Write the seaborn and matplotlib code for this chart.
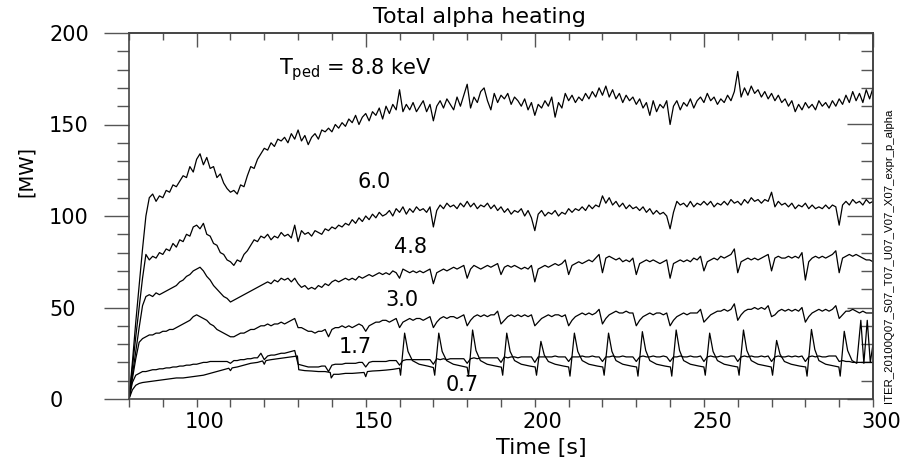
import numpy as np
import pandas as pd
import matplotlib
matplotlib.use("Agg")
import matplotlib.pyplot as plt
import matplotlib.transforms as mtransforms
from matplotlib import font_manager
import seaborn as sns

sns.set_style("ticks")
plt.rcParams["font.family"] = ["DejaVu Sans"]
plt.rcParams["mathtext.fontset"] = "dejavusans"
plt.rcParams["text.color"] = "black"
plt.rcParams["axes.labelcolor"] = "black"
plt.rcParams["xtick.labelcolor"] = "black"
plt.rcParams["ytick.labelcolor"] = "black"

# ---------------- data ----------------
TIME = np.arange(80, 301)  # 1 s grid for the first five cases

P88 = [0, 20, 42, 62, 82, 100, 110, 112, 108, 111,
       110, 114, 113, 117, 116, 119, 122, 121, 127, 124,
       131, 134, 128, 132, 126, 127, 121, 123, 118, 115,
       113, 114, 112, 117, 116, 122, 127, 126, 131, 134,
       137, 136, 140, 138, 142, 141, 143, 140, 145, 142,
       147, 141, 144, 139, 143, 145, 142, 147, 146, 148,
       146, 150, 148, 151, 149, 153, 151, 155, 150, 154,
       156, 152, 157, 155, 159, 153, 160, 156, 161, 158,
       169, 157, 161, 158, 162, 157, 160, 163, 157, 161,
       152, 160, 163, 159, 164, 161, 158, 165, 160, 166,
       172, 159, 165, 162, 168, 170, 163, 158, 167, 162,
       166, 164, 167, 161, 165, 163, 160, 164, 158, 162,
       155, 161, 159, 163, 160, 165, 154, 162, 159, 167,
       163, 166, 162, 165, 163, 167, 164, 168, 165, 170,
       166, 171, 165, 169, 164, 167, 162, 166, 163, 165,
       161, 164, 159, 162, 155, 163, 157, 161, 159, 163,
       150, 160, 163, 158, 162, 160, 164, 159, 163, 165,
       162, 167, 163, 165, 161, 164, 162, 166, 163, 168,
       179, 165, 170, 166, 171, 167, 169, 165, 168, 164,
       167, 163, 166, 162, 164, 160, 163, 157, 161, 158,
       162, 159, 161, 158, 163, 160, 162, 159, 163, 160,
       164, 161, 166, 162, 168, 163, 167, 162, 169, 164,
       170]

P60 = [0, 17, 34, 50, 66, 79, 76, 78, 77, 80,
       79, 82, 81, 85, 83, 87, 86, 90, 89, 94,
       95, 93, 96, 90, 89, 85, 84, 80, 79, 76,
       75, 73, 76, 75, 79, 81, 84, 87, 86, 89,
       88, 90, 87, 89, 88, 91, 89, 90, 88, 95,
       86, 92, 90, 91, 89, 92, 91, 90, 93, 92,
       94, 93, 95, 94, 96, 95, 98, 96, 99, 97,
       100, 98, 101, 99, 102, 100, 101, 103, 100, 104,
       102, 105, 101, 104, 102, 105, 103, 104, 102, 105,
       94, 103, 106, 104, 107, 105, 106, 104, 107, 105,
       108, 105, 107, 104, 106, 105, 107, 104, 106, 103,
       105, 102, 104, 101, 103, 102, 104, 100, 103, 99,
       92, 101, 103, 100, 102, 101, 103, 100, 102, 101,
       104, 102, 104, 103, 105, 103, 106, 104, 106, 105,
       111, 107, 110, 106, 108, 105, 107, 104, 106, 104,
       105, 103, 105, 102, 104, 101, 103, 101, 102, 100,
       93, 102, 108, 106, 107, 105, 108, 105, 107, 106,
       108, 106, 108, 105, 107, 106, 108, 106, 109, 107,
       108, 106, 109, 107, 110, 108, 109, 107, 109, 108,
       113, 105, 108, 106, 107, 105, 107, 104, 106, 105,
       107, 104, 106, 104, 105, 104, 106, 104, 106, 105,
       95, 106, 108, 106, 109, 107, 108, 106, 109, 107,
       108]

P48 = [0, 13, 26, 39, 51, 56, 57, 56, 58, 57,
       58, 59, 60, 61, 62, 64, 65, 67, 68, 70,
       71, 72, 70, 67, 65, 62, 60, 58, 56, 55,
       53, 54, 55, 56, 57, 58, 59, 60, 61, 62,
       63, 64, 63, 65, 64, 66, 65, 66, 64, 66,
       63, 61, 62, 60, 61, 60, 62, 61, 63, 62,
       64, 65, 64, 65, 66, 65, 66, 65, 67, 66,
       67, 68, 67, 68, 69, 68, 69, 68, 70, 69,
       66, 71, 70, 69, 70, 69, 70, 69, 70, 71,
       63, 69, 70, 71, 70, 71, 72, 71, 72, 73,
       66, 71, 73, 72, 71, 72, 73, 72, 73, 74,
       68, 72, 73, 72, 73, 72, 71, 72, 71, 73,
       64, 71, 72, 73, 72, 73, 74, 73, 74, 76,
       68, 73, 74, 75, 74, 75, 76, 75, 77, 79,
       69, 77, 78, 77, 76, 77, 75, 76, 75, 77,
       68, 74, 75, 76, 75, 76, 75, 74, 75, 76,
       66, 74, 75, 76, 75, 76, 75, 77, 76, 78,
       70, 75, 76, 77, 76, 78, 77, 78, 79, 82,
       69, 75, 76, 77, 76, 77, 76, 77, 78, 79,
       70, 77, 78, 77, 77, 78, 77, 78, 77, 80,
       65, 75, 77, 78, 77, 78, 77, 78, 79, 81,
       69, 77, 78, 79, 78, 79, 78, 77, 76, 76,
       75]

P30 = [0, 11, 22, 31, 33, 34, 35, 35, 36, 36,
       37, 37, 38, 38, 39, 40, 41, 42, 43, 45,
       46, 45, 44, 43, 41, 40, 38, 37, 36, 35,
       34, 34, 35, 36, 36, 37, 38, 38, 39, 40,
       40, 41, 40, 41, 41, 42, 41, 42, 43, 44,
       39, 39, 38, 37, 37, 36, 37, 37, 38, 34,
       38, 39, 39, 40, 39, 40, 39, 40, 41, 40,
       37, 40, 41, 42, 42, 43, 43, 42, 43, 44,
       39, 42, 43, 44, 43, 44, 44, 43, 44, 45,
       39, 42, 44, 45, 44, 45, 45, 44, 45, 46,
       40, 43, 45, 46, 45, 46, 45, 46, 46, 48,
       41, 43, 45, 46, 45, 46, 45, 46, 45, 46,
       40, 42, 44, 45, 46, 45, 46, 46, 45, 46,
       40, 43, 45, 46, 47, 46, 47, 46, 47, 49,
       41, 44, 46, 47, 48, 47, 47, 48, 47, 47,
       40, 43, 45, 46, 47, 46, 47, 47, 46, 47,
       40, 43, 45, 46, 47, 46, 47, 47, 47, 49,
       42, 44, 46, 47, 48, 48, 49, 48, 49, 52,
       43, 46, 48, 49, 49, 50, 49, 50, 49, 51,
       45, 46, 48, 49, 48, 49, 48, 49, 48, 50,
       42, 45, 47, 48, 49, 48, 49, 48, 49, 51,
       44, 46, 48, 48, 49, 48, 47, 48, 47, 47,
       47]

P17 = [0, 9, 13, 14, 15, 15, 15.5, 16, 16, 16.5,
       16.5, 17, 17, 17.5, 17.5, 18, 18, 18.5, 18.5, 19,
       19, 19.5, 20, 20, 20.5, 20.5, 20.5, 20.5, 20.5, 20.5,
       19.5, 21, 21, 21.5, 21.5, 22, 22, 22.5, 22.5, 25,
       21.5, 23.5, 24, 24, 24.5, 25, 25, 25.5, 26, 26.5,
       19, 18.5, 18, 17.5, 17.5, 17.5, 17.5, 18, 18, 15,
       18.5, 19, 19, 19, 19.5, 19.5, 19.5, 19.5, 20, 20,
       17.5, 20, 20.5, 20.5, 20.5, 20.5, 20.5, 21, 21, 21,
       18.5, 21, 21.5, 21.5, 21.5, 21.5, 21.5, 21.5, 21.5, 21.5,
       19, 22, 21.5, 22, 21.5, 22, 22, 22, 22, 22,
       19.5, 22, 22.5, 22, 22.5, 22.5, 22.5, 22.5, 22.5, 22.5,
       20, 23, 22.5, 23, 23, 22.5, 23, 23, 23, 23,
       20, 23, 23, 23, 23, 23, 23.5, 23, 23, 23,
       20.5, 23, 23, 23, 23.5, 23, 23, 23.5, 23, 23,
       20.5, 23, 23, 23.5, 23, 23, 23.5, 23, 23, 23,
       20.5, 23, 23.5, 23, 23, 23.5, 23, 23, 23.5, 23,
       20.5, 23, 23, 23.5, 23, 23, 23.5, 23, 23, 23.5,
       20.5, 23, 23.5, 23, 23, 23.5, 23, 23, 23.5, 23.5,
       20.5, 23, 23.5, 23, 23.5, 23, 23, 23.5, 23, 23.5,
       20.5, 23, 23.5, 23, 23, 23.5, 23, 23.5, 23, 23.5,
       20.5, 23, 23.5, 23, 23.5, 23, 23, 23.5, 23.5, 23.5,
       20.5, 21, 20.5, 20.5, 20, 20, 20, 20, 20, 20,
       20]

# lowest case, with ELM spikes (own time base)
T07 = [80, 81, 82, 83, 84, 86, 88, 90, 92, 94, 96, 98, 100, 102, 104, 106, 108,
       109.5, 110, 110.5, 112, 114, 116, 118, 119.5, 120, 120.5, 122, 124, 126,
       128, 129.8, 130.2, 132, 134, 136, 138, 139.5, 139.8, 140.5, 142, 144, 146,
       148, 149.5, 150, 150.5, 152, 154, 156, 158, 160,
       160.3, 161.5, 162.5, 163.8, 165.8, 168.3, 170.0,
       170.4, 171.6, 172.6, 173.9, 175.9, 178.4, 180.0,
       180.4, 181.6, 182.6, 183.9, 185.9, 188.4, 190.1,
       190.5, 191.7, 192.7, 194.0, 196.0, 198.5, 200.1,
       200.5, 201.8, 202.8, 204.0, 206.0, 208.5, 210.0,
       210.4, 211.7, 212.7, 214.0, 216.0, 218.5, 220.1,
       220.5, 221.8, 222.8, 224.0, 226.0, 228.5, 230.1,
       230.5, 231.8, 232.8, 234.0, 236.0, 238.5, 240.1,
       240.5, 241.8, 242.8, 244.0, 246.0, 248.5, 250.0,
       250.4, 251.7, 252.7, 254.0, 256.0, 258.5, 260.0,
       260.4, 261.7, 262.7, 264.0, 266.0, 268.5, 269.9,
       270.3, 271.5, 272.5, 273.8, 275.8, 278.3, 280.1,
       280.5, 281.8, 282.8, 284.0, 286.0, 288.5, 289.9,
       290.3, 291.5, 292.5, 293.8, 295.2, 296.4, 297.3, 298.3, 299.2, 300.0]
P07 = [0, 5, 7.5, 8.5, 9, 9.5, 10, 10.5, 11, 11.5, 11.5, 12, 12.5, 13, 14, 15, 16,
       16.8, 15.5, 17, 17.5, 18.5, 19.5, 20, 20.8, 19, 21, 21.5, 22, 22.5,
       23, 23.5, 16, 15.5, 15.3, 15, 15, 14.5, 11.5, 13.5, 13.5, 14, 14,
       14.3, 14.5, 12.2, 15, 15.3, 15.5, 15.8, 16.2, 16.8,
       13, 36, 26, 21, 19, 18, 17.2,
       13, 36, 26, 21, 19, 18, 17.3,
       12.5, 37.7, 26.5, 21, 19, 18, 17.4,
       13, 36, 26, 21, 19, 18, 17.5,
       13, 31.5, 24, 20.5, 19, 18, 17.5,
       12.5, 36, 26, 21, 19, 18, 17.5,
       13, 36, 26, 21, 19, 18, 17.5,
       12.5, 36.8, 26.5, 21, 19, 18, 17.5,
       12.5, 37.7, 26.5, 21, 19, 18, 17.5,
       13, 36, 26, 21, 19, 18, 17.5,
       13, 37.7, 26.5, 21, 19, 18, 17.5,
       13, 32, 24.5, 20.5, 19, 18, 17.5,
       12.5, 38, 27, 21, 19, 18, 17.5,
       12.5, 37, 26.5, 21, 19.5, 43, 19.5, 43, 20, 30]

CASES = ["8.8", "6.0", "4.8", "3.0", "1.7"]
CASE_LABELS = ["6.0", "4.8", "3.0", "1.7", "0.7"]
XTICKS = [100, 150, 200, 250, 300]
YTICKS = [0, 50, 100, 150, 200]

# ---------------- build the table ----------------
frames = []
for name, vals in zip(CASES, [P88, P60, P48, P30, P17]):
    frames.append(pd.DataFrame({"t": TIME, "P": vals, "case": name}))
frames.append(pd.DataFrame({"t": T07, "P": P07, "case": "0.7"}))
df = pd.concat(frames, ignore_index=True)

# ---------------- figure ----------------
W, H = 914, 463
fig = plt.figure(figsize=(W / 100, H / 100), dpi=100)
ax = fig.add_axes([129 / W, 1 - 399 / H, 744 / W, 366 / H])

sns.lineplot(data=df, x="t", y="P", units="case", estimator=None, sort=False,
             color="black", lw=0.9, ax=ax, legend=False)

ax.set_xlim(80, 300)
ax.set_ylim(0, 200)
ax.set_xlabel("")
ax.set_ylabel("")

tick_col = "#555555"
ax.set_xticks(XTICKS, labels=[str(v) for v in XTICKS])
ax.set_xticks(np.arange(80, 301, 10), minor=True)
ax.tick_params(axis="x", which="both", direction="out", length=5.5, width=1.0,
               color=tick_col, labelsize=15, pad=4, top=False)
ax.set_yticks(YTICKS, labels=[str(v) for v in YTICKS], ha="left")
ax.set_yticks(np.arange(0, 201, 10), minor=True)
ax.tick_params(axis="y", which="major", direction="out", length=18, width=1.0,
               color=tick_col, labelsize=15, pad=39.5, right=False)
ax.tick_params(axis="y", which="minor", direction="out", length=8.5, width=1.0,
               color=tick_col, right=False)

# shift the x tick labels slightly right, as in the reference
off = mtransforms.ScaledTranslation(8 / 100, 0, fig.dpi_scale_trans)
for lab in ax.get_xticklabels():
    lab.set_transform(lab.get_transform() + off)

# inward ticks on top and right
sx = ax.secondary_xaxis("top")
sx.set_xticks(XTICKS)
sx.set_xticks(np.arange(80, 301, 10), minor=True)
sx.tick_params(axis="x", which="major", direction="in", length=10, width=1.0,
               color=tick_col, labeltop=False, labelbottom=False)
sx.tick_params(axis="x", which="minor", direction="in", length=5, width=1.0,
               color=tick_col)
sy = ax.secondary_yaxis("right")
sy.set_yticks(YTICKS)
sy.set_yticks(np.arange(0, 201, 10), minor=True)
sy.tick_params(axis="y", which="major", direction="in", length=19, width=1.0,
               color=tick_col, labelright=False, labelleft=False)
sy.tick_params(axis="y", which="minor", direction="in", length=8.5, width=1.0,
               color=tick_col)

for a in (ax, sx, sy):
    for sp in a.spines.values():
        sp.set_color("#444444")
        sp.set_linewidth(1.2)

# ---------------- annotations ----------------
ax.text(124.5, 180, r"T$_{\mathrm{ped}}$ = 8.8 keV", fontsize=15, va="center", ha="left")
label_pos = [(152.4, 118.6), (163.3, 83), (160.6, 54), (147, 28.4), (178.4, 7.6)]
for txt, (tx, ty) in zip(CASE_LABELS, label_pos):
    ax.text(tx, ty, txt, fontsize=15, ha="center", va="center")

fig.text(479 / W, 1 - 17 / H, "Total alpha heating", fontsize=16, ha="center", va="center")
fig.text(541 / W, 1 - 448 / H, "Time [s]", fontsize=16, ha="center", va="center")
fig.text(26 / W, 1 - 171 / H, "[MW]", fontsize=14, rotation=90, ha="center", va="center")

names = {f.name for f in font_manager.fontManager.ttflist}
side_font = "Liberation Sans Narrow" if "Liberation Sans Narrow" in names else "Liberation Sans"
fig.text(889 / W, 1 - 256 / H, "ITER_20100Q07_S07_T07_U07_V07_X07_expr_p_alpha",
         fontsize=9.0 if side_font.endswith("Narrow") else 8.2, family=[side_font, "DejaVu Sans"],
         rotation=90, ha="center", va="center")

fig.savefig("out.png", dpi=100)
